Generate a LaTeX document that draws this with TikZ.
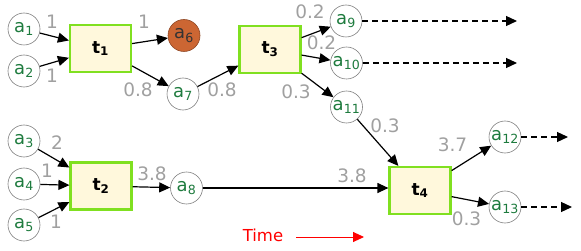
\documentclass[tikz,border=0pt]{standalone}
\usepackage{fontspec}
\setsansfont{DejaVu Sans}
\usetikzlibrary{arrows.meta}
\definecolor{leaf}{HTML}{1E7B3E}
\definecolor{edgegray}{HTML}{808080}
\definecolor{wgray}{HTML}{A0A0A0}
\definecolor{boxfill}{HTML}{FFF8DC}
\definecolor{boxline}{HTML}{80E020}
\definecolor{rust}{HTML}{CC6633}

\begin{document}
\begin{tikzpicture}[x=1pt,y=-1pt,font=\sffamily,>={Triangle[length=11pt,width=10pt]},
  line width=1.2pt,
  res/.style={circle,draw=edgegray,line width=.6pt,minimum size=32pt,inner sep=0pt,
    text=leaf,font=\fontsize{18}{20}\sffamily},
  task/.style={rectangle,draw=boxline,fill=boxfill,line width=2.2pt,
    minimum width=61pt,minimum height=47pt,font=\fontsize{17}{19}\sffamily\bfseries},
  wt/.style={text=wgray,font=\fontsize{18.5}{20}\sffamily,inner sep=0pt}]
  \useasboundingbox (0,0) rectangle (581,251);

  % tasks
  \node[task] (t1) at (100.5,48.5) {t\textsubscript{1}};
  \node[task] (t2) at (101,186) {t\textsubscript{2}};
  \node[task] (t3) at (270,49.5) {t\textsubscript{3}};
  \node[task] (t4) at (420,190.5) {t\textsubscript{4}};

  % resources
  \node[res] (a1) at (24,29) {a\textsubscript{1}};
  \node[res] (a2) at (24,71) {a\textsubscript{2}};
  \node[res] (a3) at (24,141) {a\textsubscript{3}};
  \node[res] (a4) at (24,184) {a\textsubscript{4}};
  \node[res] (a5) at (24,225) {a\textsubscript{5}};
  \node[res,fill=rust,draw=rust!70!black,text=black!80] (a6) at (184,35.5) {a\textsubscript{6}};
  \node[res] (a7) at (183,94) {a\textsubscript{7}};
  \node[res] (a8) at (186.5,188) {a\textsubscript{8}};
  \node[res] (a9) at (346,21) {a\textsubscript{9}};
  \node[res] (a10) at (346.5,63) {a\textsubscript{10}};
  \node[res] (a11) at (346.5,107) {a\textsubscript{11}};
  \node[res] (a12) at (505,137) {a\textsubscript{12}};
  \node[res] (a13) at (505,207) {a\textsubscript{13}};

  % flows
  \draw[->] (a1) -- (t1);
  \draw[->] (a2) -- (t1);
  \draw[->] (t1) -- (a6);
  \draw[->] (t1) -- (a7);
  \draw[->] (a7) -- (t3);
  \draw[->] (t3) -- (a9);
  \draw[->] (t3) -- (a10);
  \draw[->] (t3) -- (a11);
  \draw[->] (a3) -- (t2);
  \draw[->] (a4) -- (t2);
  \draw[->] (a5) -- (t2);
  \draw[->] (t2) -- (a8);
  \draw[->] (a8) -- (a8 -| t4.west);
  \draw[->] (a11) -- (t4);
  \draw[->] (t4) -- (a12);
  \draw[->] (t4) -- (a13);

  % open ends
  \coordinate (e9) at (517,21);
  \coordinate (e10) at (517,63);
  \coordinate (e12) at (568,137);
  \coordinate (e13) at (572,207);
  \foreach \s/\e in {a9/e9,a10/e10,a12/e12,a13/e13}
    \draw[->,dash pattern=on 6pt off 4pt] (\s) -- (\e);

  % weights
  \node[wt] (w1) at (52,22) {1};
  \node[wt] (w2) at (52,76) {1};
  \node[wt] (w6) at (144,22) {1};
  \node[wt] (w7) at (138,90) {0.8};
  \node[wt] (w7b) at (222,90) {0.8};
  \node[wt] (w9) at (310,12) {0.2};
  \node[wt] (w10) at (321.5,43) {0.2};
  \node[wt] (w11) at (296,92) {0.3};
  \node[wt] (w11b) at (385,126) {0.3};
  \node[wt] (w3) at (57,143) {2};
  \node[wt] (w4) at (47,171) {1};
  \node[wt] (w5) at (56,222) {1};
  \node[wt] (w8) at (152,174) {3.8};
  \node[wt] (w8b) at (352,176) {3.8};
  \node[wt] (w12) at (452.5,145) {3.7};
  \node[wt] (w13) at (466.5,219) {0.3};

  % time axis
  \node[text=red,font=\fontsize{16.5}{18}\sffamily] (time) at (263,235) {Time};
  \coordinate (ts) at (296,237);
  \coordinate (te) at (364,237);
  \draw[->,red,line width=.9pt] (ts) -- (te);
\end{tikzpicture}
\end{document}
